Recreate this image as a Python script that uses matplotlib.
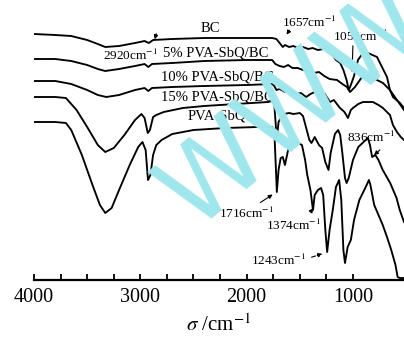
import numpy as np
import matplotlib.pyplot as plt

plt.rcParams['font.family'] = ['Liberation Serif', 'DejaVu Serif']
plt.rcParams['mathtext.fontset'] = 'stix'

# wavenumber (cm-1) and offset transmittance (a.u.)
bc_wn = [4000, 3800, 3650, 3500, 3400, 3330, 3200, 3050, 2960, 2920, 2880, 2700, 2400, 2000,
         1760, 1720, 1690, 1660, 1640, 1600, 1560, 1520, 1470, 1420, 1380, 1330, 1280, 1240,
         1200, 1160, 1120, 1090, 1060, 1040, 1020, 990, 953, 906, 859, 774, 727, 680, 652,
         624, 558, 520]
bc_t = [246, 245, 244, 240, 236, 233, 234, 237, 239, 237, 240, 241, 242, 242,
        242, 241, 237, 233, 235, 233, 234, 232, 233, 231, 232, 230, 231, 233,
        226, 220, 217, 210, 200, 190, 195, 204, 220, 227, 227, 223, 213, 203, 190,
        183, 177, 172]

sbq5_wn = [4000, 3800, 3650, 3500, 3400, 3330, 3200, 3050, 2960, 2925, 2890, 2700, 2400, 2000,
           1760, 1730, 1690, 1650, 1610, 1570, 1520, 1470, 1420, 1370, 1320, 1270, 1220,
           1150, 1100, 1056, 1028, 981, 915, 840, 774, 718, 652, 586, 520]
sbq5_t = [221, 221, 219, 215, 211, 209, 211, 214, 216, 213, 216, 217, 219, 220,
          220, 216, 214, 213, 215, 212, 212, 210, 209, 207, 208, 204, 201,
          200, 196, 193, 188, 193, 203, 203, 200, 197, 190, 180, 170]

sbq10_wn = [4000, 3800, 3650, 3500, 3400, 3320, 3200, 3050, 2960, 2925, 2890, 2700, 2400, 2000,
            1760, 1740, 1720, 1690, 1640, 1590, 1540, 1490, 1440, 1400, 1360, 1320, 1270,
            1216, 1180, 1122, 1080, 1047, 1020, 1000, 950, 906, 860, 812, 760, 718, 652,
            624, 586, 550, 520]
sbq10_t = [199, 199, 196, 190, 185, 183, 185, 190, 192, 189, 192, 193, 194, 195,
           196, 194, 190, 191, 188, 190, 186, 187, 183, 186, 188, 184, 187,
           178, 180, 172, 168, 162, 170, 172, 176, 178, 178, 178, 175, 172, 165,
           155, 148, 143, 140]

sbq15_wn = [4000, 3800, 3700, 3600, 3500, 3400, 3330, 3250, 3150, 3050, 2990, 2960, 2930, 2910,
            2880, 2850, 2780, 2600, 2400, 2100, 1800, 1760, 1740, 1716, 1700, 1680, 1650,
            1600, 1560, 1500, 1470, 1440, 1410, 1390, 1360, 1320, 1290, 1260, 1230, 1210,
            1170, 1140, 1120, 1100, 1075, 1060, 1040, 1000, 950, 880, 860, 840, 820, 790,
            760, 720, 650, 590, 560, 520]
sbq15_t = [183, 183, 182, 170, 153, 135, 128, 132, 145, 160, 166, 162, 147, 150,
           163, 165, 168, 172, 174, 176, 178, 179, 176, 140, 158, 162, 166,
           167, 166, 167, 164, 152, 140, 137, 143, 135, 132, 118, 110, 127,
           146, 150, 145, 127, 102, 97, 102, 120, 133, 140, 142, 135, 123, 125,
           120, 110, 97, 82, 70, 58]

pva_wn = [4000, 3800, 3700, 3650, 3550, 3450, 3380, 3330, 3270, 3200, 3100, 3020, 2980, 2950,
          2928, 2905, 2880, 2850, 2800, 2700, 2500, 2200, 1900, 1760, 1740, 1716, 1700,
          1680, 1660, 1640, 1610, 1590, 1530, 1480, 1450, 1430, 1400, 1376, 1360, 1330,
          1300, 1280, 1260, 1243, 1220, 1190, 1160, 1130, 1110, 1090, 1075, 1050, 1020,
          990, 940, 880, 850, 836, 800, 760, 720, 680, 640, 600, 580, 560, 520]
pva_t = [158, 158, 157, 150, 125, 95, 75, 67, 72, 90, 115, 133, 138, 130,
         100, 105, 125, 135, 140, 146, 150, 152, 153, 153, 150, 88, 110,
         122, 123, 115, 130, 137, 138, 135, 120, 105, 90, 70, 85, 90,
         92, 85, 50, 28, 50, 70, 93, 100, 80, 30, 17, 33, 40,
         60, 80, 93, 100, 95, 75, 65, 55, 43, 30, 15, 3, 2, 2]

curves = [(bc_wn, bc_t), (sbq5_wn, sbq5_t), (sbq10_wn, sbq10_t),
          (sbq15_wn, sbq15_t), (pva_wn, pva_t)]


def main():
    fig = plt.figure(figsize=(4.04, 3.37), dpi=100)
    ax = fig.add_axes([0.0842, 0.1691, 0.9158, 0.8309])

    # cyan watermark behind the spectra
    fig.text(0.73, 0.68, "WWW", color="#9fe7ed", fontsize=76, rotation=40,
             ha="center", va="center", family="DejaVu Sans", zorder=0)
    ax.patch.set_alpha(0)

    for wn, t in curves:
        ax.plot(wn, t, color="black", lw=1.35, zorder=3)

    ax.set_xlim(4000, 520)
    ax.set_ylim(0, 280)

    ax.set_xticks([4000, 3000, 2000, 1000])
    ax.set_xticks(np.arange(1000, 4000, 250), minor=True)
    ax.tick_params(axis="x", which="both", direction="in", length=4, width=1.3,
                   labelsize=14.5, pad=6)
    ax.set_yticks([])
    for side in ["top", "right", "left"]:
        ax.spines[side].set_visible(False)
    ax.spines["bottom"].set_linewidth(1.6)
    ax.set_xlabel(r"$\sigma$ /cm$^{-1}$", fontsize=15, labelpad=5)

    fs = 10.5
    ax.text(2345, 252, "BC", ha="center", va="center", fontsize=fs)
    ax.text(2288, 227, "5% PVA-SbQ/BC", ha="center", va="center", fontsize=fs)
    ax.text(2279, 203, "10% PVA-SbQ/BC", ha="center", va="center", fontsize=fs)
    ax.text(2279, 183, "15% PVA-SbQ/BC", ha="center", va="center", fontsize=fs)
    ax.text(2279, 164, "PVA-SbQ", ha="center", va="center", fontsize=fs)

    arrow = dict(arrowstyle="-|>", color="black", lw=0.8, mutation_scale=6)
    fa = 9.5
    ax.text(3088, 225, "2920cm$^{-1}$", ha="center", va="center", fontsize=fa)
    ax.annotate("", xy=(2871, 238), xytext=(2843, 249), arrowprops=arrow)
    ax.text(1414, 258, "1657cm$^{-1}$", ha="center", va="center", fontsize=fa)
    ax.annotate("", xy=(1639, 243), xytext=(1583, 252), arrowprops=arrow)
    ax.text(934, 244, "1055cm$^{-1}$", ha="center", va="center", fontsize=fa)
    ax.annotate("", xy=(1009, 205), xytext=(1000, 237), arrowprops=arrow)
    ax.text(1997, 67, "1716cm$^{-1}$", ha="center", va="center", fontsize=fa)
    ax.annotate("", xy=(1733, 87), xytext=(1893, 76), arrowprops=arrow)
    ax.text(1564, 55, "1374cm$^{-1}$", ha="center", va="center", fontsize=fa)
    ax.annotate("", xy=(1357, 74), xytext=(1414, 66), arrowprops=arrow)
    ax.text(1705, 20, "1243cm$^{-1}$", ha="center", va="center", fontsize=fa)
    ax.annotate("", xy=(1263, 27), xytext=(1414, 22),
                arrowprops=dict(arrow, linestyle="--"))
    ax.text(831, 143, "836cm$^{-1}$", ha="center", va="center", fontsize=fa)
    ax.annotate("", xy=(821, 123), xytext=(727, 132), arrowprops=arrow)

    fig.savefig("out.png", dpi=100)


if __name__ == "__main__":
    main()
